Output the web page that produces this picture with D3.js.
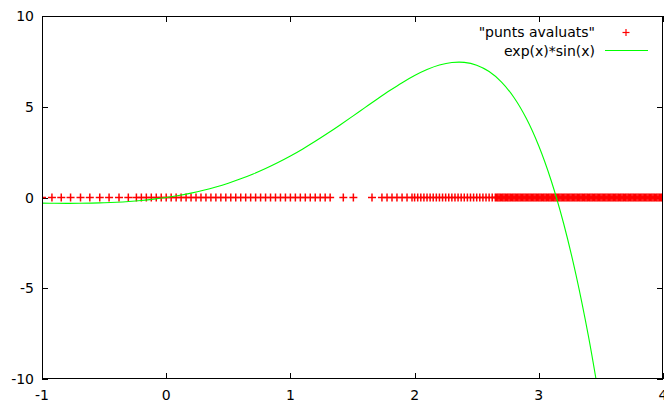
<!DOCTYPE html>
<html>
<head>
<meta charset="utf-8">
<script src="https://cdn.jsdelivr.net/npm/d3@7"></script>
<style>
html,body{margin:0;padding:0;background:#fff;}
svg{display:block;}
text{font-family:"DejaVu Sans",sans-serif;font-size:14px;fill:#000;}
</style>
</head>
<body>
<svg id="chart" width="664" height="403"></svg>
<script>
// Evaluated points (all at y = 0)
const pointsSparse = [-1, -0.92, -0.845, -0.77, -0.69, -0.615, -0.535, -0.46, -0.38, -0.305];
const pointsDense = [-0.24,-0.20,-0.16,-0.12,-0.08,-0.04,0.00,0.04,0.08,0.12,0.16,0.20,0.24,0.28,0.32,0.36,0.40,0.44,0.48,0.52,0.56,0.60,0.64,0.68,0.72,0.76,0.80,0.84,0.88,0.92,0.96,1.00,1.04,1.08,1.12,1.16,1.20,1.24,1.28,1.32];
const pointsMid = [1.426, 1.507, 1.657, 1.737, 1.778, 1.818, 1.858, 1.899, 1.939, 1.979];
const pointsTight = [2.000,2.025,2.050,2.075,2.100,2.125,2.150,2.175,2.200,2.225,2.250,2.275,2.300,2.325,2.350,2.375,2.400,2.425,2.450,2.475,2.500,2.525,2.550,2.575,2.600,2.625,2.650];
const pointsSolid = [2.66,2.67,2.68,2.69,2.70,2.71,2.72,2.73,2.74,2.75,2.76,2.77,2.78,2.79,2.80,2.81,2.82,2.83,2.84,2.85,2.86,2.87,2.88,2.89,2.90,2.91,2.92,2.93,2.94,2.95,2.96,2.97,2.98,2.99,3.00,3.01,3.02,3.03,3.04,3.05,3.06,3.07,3.08,3.09,3.10,3.11,3.12,3.13,3.14,3.15,3.16,3.17,3.18,3.19,3.20,3.21,3.22,3.23,3.24,3.25,3.26,3.27,3.28,3.29,3.30,3.31,3.32,3.33,3.34,3.35,3.36,3.37,3.38,3.39,3.40,3.41,3.42,3.43,3.44,3.45,3.46,3.47,3.48,3.49,3.50,3.51,3.52,3.53,3.54,3.55,3.56,3.57,3.58,3.59,3.60,3.61,3.62,3.63,3.64,3.65,3.66,3.67,3.68,3.69,3.70,3.71,3.72,3.73,3.74,3.75,3.76,3.77,3.78,3.79,3.80,3.81,3.82,3.83,3.84,3.85,3.86,3.87,3.88,3.89,3.90,3.91,3.92,3.93,3.94,3.95,3.96,3.97,3.98,3.99,4.00];

// Curve exp(x)*sin(x), sampled values
const curveX = [-1,-0.9,-0.8,-0.7,-0.6,-0.5,-0.4,-0.3,-0.2,-0.1,0,0.1,0.2,0.3,0.4,0.5,0.6,0.7,0.8,0.9,1.0,1.1,1.2,1.3,1.4,1.5,1.6,1.7,1.8,1.9,2.0,2.1,2.2,2.3,2.4,2.5,2.6,2.7,2.8,2.9,3.0,3.1,3.2,3.3,3.4,3.5];
const curveY = [-0.30956,-0.31848,-0.32233,-0.31991,-0.30988,-0.29079,-0.26104,-0.21893,-0.16266,-0.09033,0,0.11033,0.24266,0.39891,0.58094,0.79044,1.02884,1.29730,1.59651,1.92668,2.28736,2.67735,3.09448,3.53559,3.99619,4.47045,4.95090,5.42830,5.89145,6.32686,6.71885,7.04912,7.29672,7.43789,7.44580,7.29086,6.94056,6.35933,5.50878,4.34817,2.83447,0.92302,-1.43197,-4.27702,-7.65704,-11.61621];

const xTicks = [-1, 0, 1, 2, 3, 4];
const yTicks = [-10, -5, 0, 5, 10];
const legendLabels = ['"punts avaluats"', 'exp(x)*sin(x)'];

const L = 42, R = 663, T = 16, B = 379;
const svg = d3.select("#chart");
const x = d3.scaleLinear().domain([-1, 4]).range([L, R]);
const y = d3.scaleLinear().domain([-10, 10]).range([B, T]);

const allPoints = [].concat(pointsSparse, pointsDense, pointsMid, pointsTight, pointsSolid);

svg.append("defs").append("clipPath").attr("id", "clip")
  .append("rect").attr("x", L).attr("y", T).attr("width", R - L).attr("height", B - T);

const tickLen = 6;
const axisColor = "#000";
// ticks (inward, mirrored)
const tg = svg.append("g").attr("stroke", axisColor).attr("stroke-width", 1);
xTicks.forEach(t => {
  const px = Math.round(x(t)) + 0.5;
  tg.append("line").attr("x1", px).attr("x2", px).attr("y1", B).attr("y2", B - tickLen);
  tg.append("line").attr("x1", px).attr("x2", px).attr("y1", T).attr("y2", T + tickLen);
});
yTicks.forEach(t => {
  const py = Math.round(y(t)) + 0.5;
  tg.append("line").attr("x1", L).attr("x2", L + tickLen).attr("y1", py).attr("y2", py);
  tg.append("line").attr("x1", R).attr("x2", R - tickLen).attr("y1", py).attr("y2", py);
});

// tick labels
xTicks.forEach(t => {
  svg.append("text").attr("x", x(t)).attr("y", 400).attr("text-anchor", "middle").text(t);
});
yTicks.forEach(t => {
  svg.append("text").attr("x", 34).attr("y", y(t) + 5).attr("text-anchor", "end").text(t);
});

// points
const crossSize = 4;
const pg = svg.append("g").attr("stroke", "#ff0000").attr("stroke-width", 1.5).attr("clip-path", "url(#clip)");
allPoints.forEach(v => {
  const px = x(v), py = y(0);
  pg.append("line").attr("x1", px - crossSize).attr("x2", px + crossSize).attr("y1", py).attr("y2", py);
  pg.append("line").attr("x1", px).attr("x2", px).attr("y1", py - crossSize).attr("y2", py + crossSize);
});

// curve
const line = d3.line().x(d => x(d[0])).y(d => y(d[1])).curve(d3.curveCatmullRom);
svg.append("path")
  .datum(curveX.map((v, i) => [v, curveY[i]]))
  .attr("d", line)
  .attr("fill", "none").attr("stroke", "#00ff00").attr("stroke-width", 1.1)
  .attr("clip-path", "url(#clip)");

// border
svg.append("rect").attr("x", L + 0.5).attr("y", T + 0.5).attr("width", R - L - 1).attr("height", B - T - 1)
  .attr("fill", "none").attr("stroke", axisColor).attr("stroke-width", 1);

// legend
svg.append("text").attr("x", 595).attr("y", 37).attr("text-anchor", "end").text(legendLabels[0]);
svg.append("text").attr("x", 595).attr("y", 56).attr("text-anchor", "end").text(legendLabels[1]);
const lg = svg.append("g").attr("stroke", "#ff0000").attr("stroke-width", 1.2);
lg.append("line").attr("x1", 626 - 3.5).attr("x2", 626 + 3.5).attr("y1", 32.5).attr("y2", 32.5);
lg.append("line").attr("x1", 626).attr("x2", 626).attr("y1", 32.5 - 3.5).attr("y2", 32.5 + 3.5);
svg.append("line").attr("x1", 605).attr("x2", 648).attr("y1", 50.5).attr("y2", 50.5)
  .attr("stroke", "#00ff00").attr("stroke-width", 1.1);
</script>
</body>
</html>
